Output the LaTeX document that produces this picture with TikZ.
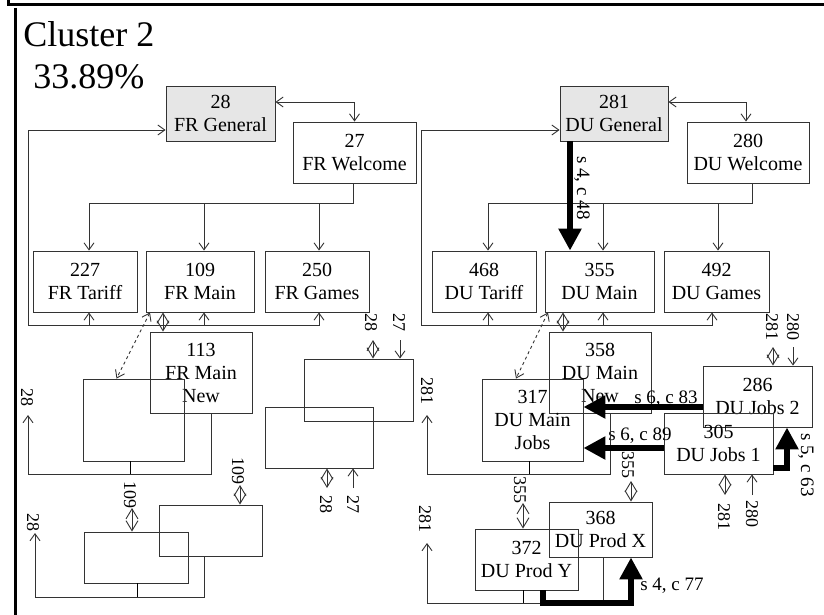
\documentclass[tikz,border=0pt]{standalone}
\usepackage{fontspec}
\setmainfont{Liberation Serif}
\usetikzlibrary{arrows.meta}
\definecolor{edge}{HTML}{333333}
\definecolor{shade}{HTML}{E6E6E6}
\tikzset{
  box/.style={rectangle, draw=edge, align=center, font=\fontsize{20}{23}\selectfont, inner sep=0pt},
  genbox/.style={box, fill=shade},
  lbl/.style={font=\fontsize{18}{20}\selectfont, rotate=-90, inner sep=0pt},
  note/.style={font=\fontsize{19}{21}\selectfont, inner sep=0pt},
  tag/.style={note, rotate=-90},
  flow/.style={-{Straight Barb[length=7pt,width=10pt]}, draw=edge},
  pair/.style={{Straight Barb[length=7pt,width=10pt]}-{Straight Barb[length=7pt,width=10pt]}, draw=edge},
  both/.style={{Straight Barb[length=10pt,width=12pt]}-{Straight Barb[length=10pt,width=12pt]}, draw=edge},
  link/.style={pair, dashed},
  heavy/.style={-{Triangle[length=22pt,width=22pt]}, line width=6pt, draw=black},
  frame/.style={line width=3pt, draw=black},
}
\begin{document}
\begin{tikzpicture}[x=1pt, y=-1pt, line width=0.9pt]
  \useasboundingbox (0,0) rectangle (824,615);
  \draw[frame] (8,0) |- (824,5);
  \draw[frame] (15,8) -- (15,615);
  \node[anchor=base west, font=\fontsize{36}{40}\selectfont, inner sep=0pt] (title) at (23,47) {Cluster 2};
  \node[anchor=base west, font=\fontsize{36}{40}\selectfont, inner sep=0pt] (share) at (33,89) {33.89\%};

  \node[genbox, minimum width=109pt, minimum height=55pt] (frgen) at (220.5,113.5) {28\\FR General};
  \node[box, minimum width=123pt, minimum height=61pt] (frwel) at (354.5,152.5) {27\\FR Welcome};
  \node[box, minimum width=104pt, minimum height=61pt] (frtar) at (85,281.5) {227\\FR Tariff};
  \node[box, minimum width=108pt, minimum height=61pt] (frmain) at (200,281.5) {109\\FR Main};
  \node[box, minimum width=104pt, minimum height=61pt] (frgam) at (317,281.5) {250\\FR Games};
  \node[box, minimum width=102pt, minimum height=81pt] (frmnew) at (201,372.5) {113\\FR Main\\New};
  \node[box, minimum width=101pt, minimum height=82pt] (frea) at (133.5,420) {};
  \node[box, minimum width=109pt, minimum height=62pt] (frgd) at (358.5,390) {};
  \node[box, minimum width=108pt, minimum height=61pt] (frge) at (319,437.5) {};
  \node[box, minimum width=104pt, minimum height=51pt] (freb) at (136,557.5) {};
  \node[box, minimum width=103pt, minimum height=51pt] (frec) at (210.5,530.5) {};

  \node[genbox, minimum width=108pt, minimum height=55pt] (dugen) at (614,113.5) {281\\DU General};
  \node[box, minimum width=122pt, minimum height=61pt] (duwel) at (748,152.5) {280\\DU Welcome};
  \node[box, minimum width=104pt, minimum height=61pt] (dutar) at (484,281.5) {468\\DU Tariff};
  \node[box, minimum width=109pt, minimum height=61pt] (dumain) at (599.5,281.5) {355\\DU Main};
  \node[box, minimum width=105pt, minimum height=61pt] (dugam) at (716.5,281.5) {492\\DU Games};
  \node[box, minimum width=102pt, minimum height=81pt] (dumnew) at (600,372.5) {358\\DU Main\\New};
  \node[box, minimum width=101pt, minimum height=82pt] (dumjobs) at (532.5,420) {317\\DU Main\\Jobs};
  \node[box, minimum width=109pt, minimum height=61pt] (jobstwo) at (757.5,396.5) {286\\DU Jobs 2};
  \node[box, minimum width=109pt, minimum height=61pt] (jobsone) at (718.5,443.5) {305\\DU Jobs 1};
  \node[box, minimum width=103pt, minimum height=55pt] (prodx) at (600.5,529.5) {368\\DU Prod X};
  \node[box, minimum width=103pt, minimum height=61pt] (prody) at (526.5,559.5) {372\\DU Prod Y};

  \coordinate (frlb) at (28,325);
  \coordinate (frup1) at (28,415);
  \coordinate (frup2) at (35,533);
  \coordinate (frd28) at (373,340);
  \coordinate (frd27) at (400,340);
  \coordinate (fre28) at (327,488);
  \coordinate (fre27) at (353,488);
  \coordinate (frb109) at (132,508);
  \coordinate (frc109) at (240,485);
  \coordinate (dulb) at (421,325);
  \coordinate (duup1) at (427,415);
  \coordinate (duup2) at (427,543);
  \coordinate (dut281) at (773,347);
  \coordinate (dut280) at (793,347);
  \coordinate (dub281) at (725,495);
  \coordinate (dub280) at (752,495);
  \coordinate (du355a) at (523,503);
  \coordinate (du355b) at (631,481);

  \node[lbl] (lfr28a) at (27,397) {28};
  \node[lbl] (lfr28b) at (33,522) {28};
  \node[lbl] (lfrd28) at (371,322) {28};
  \node[lbl] (lfrd27) at (399,322) {27};
  \node[lbl] (lfre28) at (326,504) {28};
  \node[lbl] (lfre27) at (353,504) {27};
  \node[lbl] (lfrb109) at (130,495) {109};
  \node[lbl] (lfrc109) at (238,471) {109};
  \node[lbl] (ldu281a) at (427,391) {281};
  \node[lbl] (ldu281b) at (425,519) {281};
  \node[lbl] (ldut281) at (772,327) {281};
  \node[lbl] (ldut280) at (793,327) {280};
  \node[lbl] (ldub281) at (724,517) {281};
  \node[lbl] (ldub280) at (752,514) {280};
  \node[lbl] (ldu355a) at (520,490) {355};
  \node[lbl] (ldu355b) at (628,465) {355};
  \node[tag] (l48) at (582,188) {s 4, c 48};
  \node[tag] (l63) at (806,465) {s 5, c 63};
  \node[note] (l83) at (666,399) {s 6, c 83};
  \node[note] (l89) at (640,436) {s 6, c 89};
  \node[note] (l77) at (672,586) {s 4, c 77};

  \draw[pair] ([yshift=11.5pt]frgen.east) -| (frwel.north);
  \draw[flow] (frlb) |- ([yshift=-16.5pt]frgen.west);
  \draw[flow] (frlb) -| ([xshift=2pt]frgam.south);
  \draw[flow] ([xshift=4pt]frtar.south |- frlb) -- ([xshift=4pt]frtar.south);
  \draw[flow] ([xshift=4pt]frmain.south |- frlb) -- ([xshift=4pt]frmain.south);
  \draw[flow] ([xshift=-1.5pt]frwel.south) -- ++(0,20) -| ([xshift=4pt]frtar.north);
  \draw[flow] ([xshift=-1.5pt]frwel.south) ++(0,20) -| ([xshift=4pt]frmain.north);
  \draw[flow] ([xshift=-1.5pt]frwel.south) ++(0,20) -| ([xshift=2pt]frgam.north);
  \draw[both] ([xshift=-37pt]frmain.south) -- ([xshift=-37pt]frmain.south |- frmnew.north);
  \draw[link] ([xshift=-50pt]frmain.south) -- ([xshift=-17pt]frea.north);
  \draw ([xshift=-3.5pt]frea.south) -- ++(0,13);
  \draw[flow] ([xshift=10pt]frmnew.south) |- ([yshift=-13pt]frea.south) -| (frup1);
  \draw[both] (frd28) -- (frd28 |- frgd.north);
  \draw[flow] (frd27) -- (frd27 |- frgd.north);
  \draw[both] (fre28 |- frge.south) -- (fre28);
  \draw[flow] (fre27) -- (fre27 |- frge.south);
  \draw[both] (frb109) -- (frb109 |- freb.north);
  \draw[both] (frc109) -- (frc109 |- frec.north);
  \draw ([xshift=1pt]freb.south) -- ++(0,14);
  \draw[flow] ([xshift=-6.5pt]frec.south) |- ([yshift=-14pt]freb.south) -| (frup2);

  \draw[pair] ([yshift=11.5pt]dugen.east) -| ([xshift=-2pt]duwel.north);
  \draw[flow] (dulb) |- ([yshift=-16.5pt]dugen.west);
  \draw[flow] (dulb) -| ([xshift=-4.5pt]dugam.south);
  \draw[flow] ([xshift=4pt]dutar.south |- dulb) -- ([xshift=4pt]dutar.south);
  \draw[flow] ([xshift=3.5pt]dumain.south |- dulb) -- ([xshift=3.5pt]dumain.south);
  \draw[flow] ([xshift=4pt]duwel.south) -- ++(0,20) -| ([xshift=4pt]dutar.north);
  \draw[flow] ([xshift=4pt]duwel.south) ++(0,20) -| ([xshift=3.5pt]dumain.north);
  \draw[flow] ([xshift=4pt]duwel.south) ++(0,20) -| ([xshift=1.5pt]dugam.north);
  \draw[both] ([xshift=-36.5pt]dumain.south) -- ([xshift=-36.5pt]dumain.south |- dumnew.north);
  \draw[link] ([xshift=-51.5pt]dumain.south) -- ([xshift=-16.5pt]dumjobs.north);
  \draw ([xshift=-3.5pt]dumjobs.south) -- ++(0,13);
  \draw[flow] ([xshift=10pt]dumnew.south) |- ([yshift=-13pt]dumjobs.south) -| (duup1);
  \draw[both] (dut281) -- (dut281 |- jobstwo.north);
  \draw[flow] (dut280) -- (dut280 |- jobstwo.north);
  \draw[both] (dub281 |- jobsone.south) -- (dub281);
  \draw[flow] (dub280) -- (dub280 |- jobsone.south);
  \draw[both] (du355a) -- (du355a |- prody.north);
  \draw[both] (du355b) -- (du355b |- prodx.north);
  \draw ([xshift=-3.5pt]prody.south) -- ++(0,13);
  \draw[flow] ([xshift=2.5pt]prodx.south) |- ([yshift=-13pt]prody.south) -| (duup2);

  \draw[heavy] ([xshift=-44pt]dugen.south) -- ([xshift=-44pt]dugen.south |- dumain.north);
  \draw[heavy] ([yshift=-10.5pt]jobstwo.west) -- ([yshift=-10.5pt]jobstwo.west -| dumjobs.east);
  \draw[heavy] ([yshift=-4.5pt]jobsone.west) -- ([yshift=-4.5pt]jobsone.west -| dumjobs.east);
  \draw[heavy] ([yshift=6pt]jobsone.south east) -| ([xshift=29.5pt]jobstwo.south);
  \draw[heavy] ([xshift=16.5pt]prody.south) -- ++(0,13) -| ([xshift=30.5pt]prodx.south);
\end{tikzpicture}
\end{document}
